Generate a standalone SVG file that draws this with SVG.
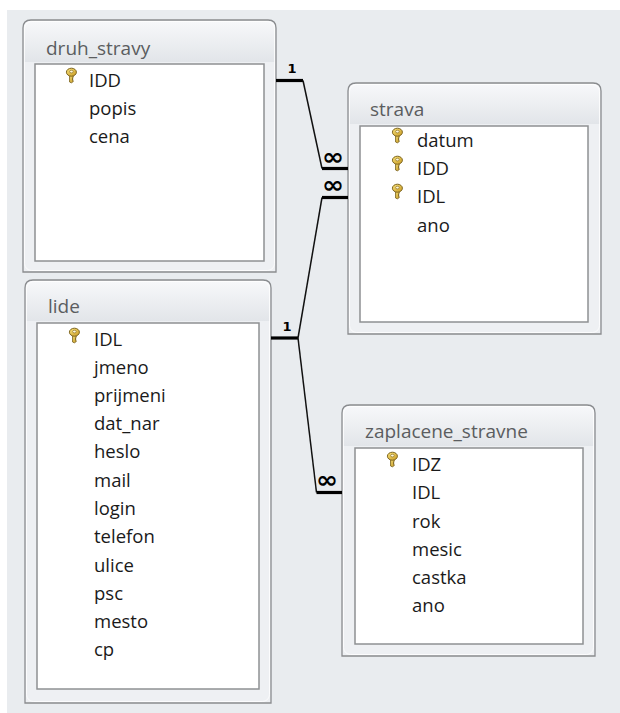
<svg xmlns="http://www.w3.org/2000/svg" width="620" height="713" viewBox="0 0 620 713">
<defs>
<style>
.frame{fill:#eef0f3;stroke:#8a8c8f;stroke-width:1.3}
.hl{fill:none;stroke:#ffffff;stroke-width:1;opacity:0.8}
.list{fill:#ffffff;stroke:#8e9093;stroke-width:1.5}
.title{font-family:"Open Sans","Noto Sans",sans-serif;font-size:19px;fill:#5b5d60}
.fld{font-family:"Open Sans","Noto Sans",sans-serif;font-size:18.5px;fill:#1a1a1a}
.thick{stroke:#000;stroke-width:3.2;fill:none}
.thin{stroke:#111;stroke-width:1.5;fill:none}
.one{font-family:"DejaVu Sans",sans-serif;font-weight:bold;font-size:13px;fill:#000;text-anchor:middle}
.inf{font-family:"DejaVu Sans",sans-serif;font-weight:bold;font-size:24px;fill:#000}
</style>
<linearGradient id="hdr" x1="0" y1="0" x2="0" y2="1">
<stop offset="0" stop-color="#f7f8fa"/>
<stop offset="1" stop-color="#e2e5e9"/>
</linearGradient>
<linearGradient id="gold" x1="0" y1="0" x2="1" y2="1">
<stop offset="0" stop-color="#f8e27a"/>
<stop offset="1" stop-color="#c99a22"/>
</linearGradient>
<g id="key">
<path d="M3.6 7.5 L3.6 14 L5.4 14.8 L7.2 13.6 L7.2 12.6 L6 11.9 L7.2 11 L6 10.2 L7.2 9.4 L7.2 7.5 Z" fill="url(#gold)" stroke="#7d6520" stroke-width="0.9"/>
<ellipse cx="5.4" cy="4.2" rx="5" ry="4" fill="url(#gold)" stroke="#7d6520" stroke-width="1"/>
<ellipse cx="5.4" cy="3.6" rx="1.8" ry="1.3" fill="#fff8d8" stroke="#7d6520" stroke-width="0.6"/>
</g>
</defs>
<rect x="0" y="0" width="620" height="713" fill="#ffffff"/>
<rect x="7" y="10" width="613" height="703" fill="#e9ecef"/>

<g id="druh_stravy">
<path class="frame" d="M23 272 V28 Q23 20 31 20 H268 Q276 20 276 28 V272 Z"/>
<path d="M24 62 V28.5 Q24 21 31.5 21 H267.5 Q275 21 275 28.5 V62 Z" fill="url(#hdr)"/>
<rect class="hl" x="24.5" y="21.5" width="250" height="249" rx="7"/>
<rect class="list" x="35" y="64" width="229" height="197"/>
<text class="title" x="46" y="55">druh_stravy</text>
<use href="#key" x="66" y="68"/>
<text class="fld" x="89" y="87">IDD</text>
<text class="fld" x="89" y="115">popis</text>
<text class="fld" x="89" y="143">cena</text>
</g>

<g id="lide">
<path class="frame" d="M25 703 V288 Q25 280 33 280 H263 Q271 280 271 288 V703 Z"/>
<path d="M26 321 V288.5 Q26 281 33.5 281 H262.5 Q270 281 270 288.5 V321 Z" fill="url(#hdr)"/>
<rect class="hl" x="26.5" y="281.5" width="243" height="420" rx="7"/>
<rect class="list" x="37" y="323" width="222" height="366"/>
<text class="title" x="48" y="313">lide</text>
<use href="#key" x="69" y="328"/>
<text class="fld" x="94" y="346">IDL</text>
<text class="fld" x="94" y="374">jmeno</text>
<text class="fld" x="94" y="402">prijmeni</text>
<text class="fld" x="94" y="430">dat_nar</text>
<text class="fld" x="94" y="458">heslo</text>
<text class="fld" x="94" y="487">mail</text>
<text class="fld" x="94" y="515">login</text>
<text class="fld" x="94" y="543">telefon</text>
<text class="fld" x="94" y="572">ulice</text>
<text class="fld" x="94" y="600">psc</text>
<text class="fld" x="94" y="628">mesto</text>
<text class="fld" x="94" y="656">cp</text>
</g>

<g id="strava">
<path class="frame" d="M348 334 V91 Q348 83 356 83 H593 Q601 83 601 91 V334 Z"/>
<path d="M349 124 V91.5 Q349 84 356.5 84 H592.5 Q600 84 600 91.5 V124 Z" fill="url(#hdr)"/>
<rect class="hl" x="349.5" y="84.5" width="250" height="248" rx="7"/>
<rect class="list" x="360" y="126" width="228" height="196"/>
<text class="title" x="370" y="116">strava</text>
<use href="#key" x="392" y="128"/>
<use href="#key" x="392" y="156"/>
<use href="#key" x="392" y="184"/>
<text class="fld" x="417" y="147">datum</text>
<text class="fld" x="417" y="175">IDD</text>
<text class="fld" x="417" y="203">IDL</text>
<text class="fld" x="417" y="232">ano</text>
</g>

<g id="zaplacene_stravne">
<path class="frame" d="M342 656 V413 Q342 405 350 405 H587 Q595 405 595 413 V656 Z"/>
<path d="M343 446 V413.5 Q343 406 350.5 406 H586.5 Q594 406 594 413.5 V446 Z" fill="url(#hdr)"/>
<rect class="hl" x="343.5" y="406.5" width="250" height="248" rx="7"/>
<rect class="list" x="355" y="448" width="228" height="196"/>
<text class="title" x="365" y="438">zaplacene_stravne</text>
<use href="#key" x="387" y="452"/>
<text class="fld" x="412" y="471">IDZ</text>
<text class="fld" x="412" y="499">IDL</text>
<text class="fld" x="412" y="528">rok</text>
<text class="fld" x="412" y="556">mesic</text>
<text class="fld" x="412" y="584">castka</text>
<text class="fld" x="412" y="612">ano</text>
</g>

<g id="connectors">
<path class="thick" d="M276 80.5 H303"/>
<path class="thin" d="M303 80.5 L322 168.5"/>
<path class="thick" d="M322 168.5 H348"/>
<text class="one" x="292" y="73">1</text>
<text class="inf" x="322" y="165" textLength="22" lengthAdjust="spacingAndGlyphs">∞</text>

<path class="thick" d="M271 338 H298"/>
<path class="thin" d="M298 338 L322 197.5"/>
<path class="thick" d="M322 197.5 H348"/>
<text class="one" x="287" y="331">1</text>
<text class="inf" x="322" y="193" textLength="22" lengthAdjust="spacingAndGlyphs">∞</text>

<path class="thin" d="M298 338 L316.5 492.5"/>
<path class="thick" d="M316.5 492.5 H342"/>
<text class="inf" x="316" y="487.5" textLength="22" lengthAdjust="spacingAndGlyphs">∞</text>
</g>
</svg>
